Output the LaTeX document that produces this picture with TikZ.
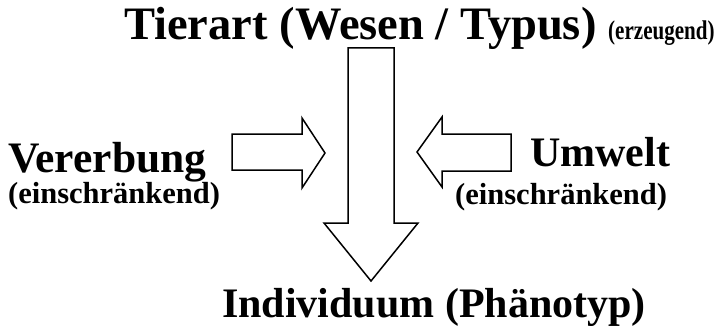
\documentclass[tikz,border=0pt]{standalone}
\usepackage{fontspec}
\setmainfont{Liberation Serif}
\tikzset{
  title/.style={font=\bfseries\fontsize{46.5}{52}\selectfont, inner sep=0pt, anchor=base west},
  big/.style={font=\bfseries\fontsize{42}{48}\selectfont, inner sep=0pt, anchor=base west},
  mid/.style={font=\bfseries\fontsize{30.5}{36}\selectfont, inner sep=0pt, anchor=base west},
  small/.style={font=\bfseries\fontsize{27}{32}\selectfont, inner sep=0pt, anchor=base west},
  blockarrow/.style={draw=black, line width=1.5pt, fill=white, line join=miter}
}
\begin{document}
\begin{tikzpicture}[x=1pt, y=-1pt]
  \useasboundingbox (0,0) rectangle (719,326);

  % labels
  \node[title] (art)   at (124,40)  {Tierart (Wesen / Typus)};
  \node[small] (erz)   at (608,40)  {\scalebox{0.78}[1]{(erzeugend)}};
  \node[big, font=\bfseries\fontsize{43.5}{50}\selectfont] (ver) at (8,172) {Vererbung};
  \node[mid]   (verE)  at (8,203)   {(einschränkend)};
  \node[big]   (umw)   at (530,166) {Umwelt};
  \node[mid]   (umwE)  at (455,204) {(einschränkend)};
  \node[big]   (ind)   at (222,317) {Individuum (Phänotyp)};

  % main downward block arrow
  \draw[blockarrow] (348,48) -- (394,48) -- (394,223) -- (418,223)
        -- (371,281) -- (324,223) -- (348,223) -- cycle;

  % block arrow from the left
  \draw[blockarrow] (232,134) -- (302,134) -- (302,118) -- (325,153)
        -- (302,188) -- (302,170) -- (232,170) -- cycle;

  % block arrow from the right
  \draw[blockarrow] (511,134) -- (442,134) -- (442,117) -- (417,152)
        -- (442,187) -- (442,171) -- (511,171) -- cycle;
\end{tikzpicture}
\end{document}
